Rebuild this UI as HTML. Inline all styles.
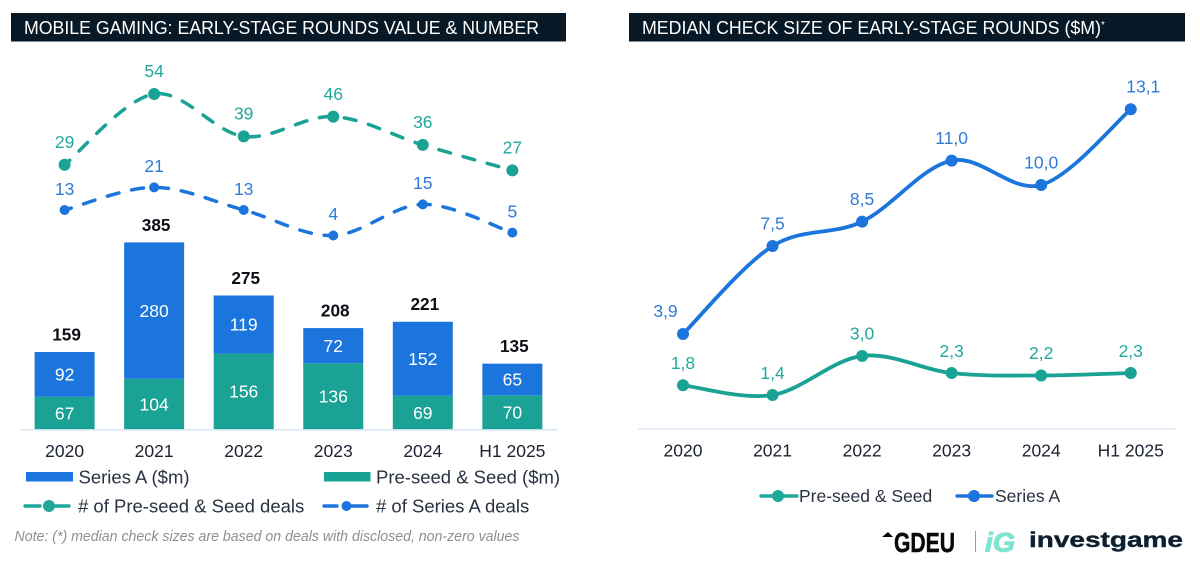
<!DOCTYPE html>
<html lang="en">
<head>
<meta charset="utf-8">
<title>Mobile gaming early-stage rounds</title>
<style>
  html, body { margin: 0; padding: 0; background: #fff; }
  body { width: 1200px; height: 567px; overflow: hidden; }
  svg { display: block; font-family: "Liberation Sans", Arial, sans-serif; filter: blur(0.35px); }
  text { white-space: pre; }
</style>
</head>
<body>
<svg id="root" xmlns="http://www.w3.org/2000/svg" width="1200" height="567" viewBox="0 0 1200 567">
  <rect x="0" y="0" width="1200" height="567" fill="#ffffff"/>

  <g>
    <rect x="11" y="13" width="555" height="28.5" fill="#071826"/>
    <text x="24" y="34.2" font-size="18.5" fill="#ffffff" textLength="515" lengthAdjust="spacingAndGlyphs">MOBILE GAMING: EARLY-STAGE ROUNDS VALUE &amp; NUMBER</text>
  </g>
  <g>
    <rect x="629" y="13" width="556" height="28.5" fill="#071826"/>
    <text x="642" y="34.2" font-size="18.5" fill="#ffffff" textLength="459" lengthAdjust="spacingAndGlyphs">MEDIAN CHECK SIZE OF EARLY-STAGE ROUNDS ($M)</text>
    <text x="1101" y="28" font-size="10" fill="#ffffff">*</text>
  </g>

  <g id="left-plot"></g>
  <g id="right-plot"></g>

  <g font-size="18.5" fill="#2a3242">
    <g>
      <rect x="26" y="472" width="47" height="9.5" fill="#1c75dc"/>
      <text x="78.5" y="483.3">Series A ($m)</text>
    </g>
    <g>
      <rect x="324" y="472" width="46.5" height="9.5" fill="#16a394"/>
      <text x="376" y="483.3">Pre-seed &amp; Seed ($m)</text>
    </g>
    <g>
      <line x1="25" x2="69" y1="506" y2="506" stroke="#1fa79a" stroke-width="3.4" stroke-linecap="round" stroke-dasharray="15 14 15"/>
      <circle cx="49" cy="506" r="6" fill="#1fa79a"/>
      <text x="78" y="512.6"># of Pre-seed &amp; Seed deals</text>
    </g>
    <g>
      <line x1="324" x2="367" y1="506" y2="506" stroke="#1c75dc" stroke-width="3.4" stroke-linecap="round" stroke-dasharray="13 15 15"/>
      <circle cx="346.5" cy="506" r="5" fill="#1c75dc"/>
      <text x="376" y="512.6"># of Series A deals</text>
    </g>
  </g>

  <text x="14.5" y="541" font-size="14.6" font-style="italic" fill="#8b9096" textLength="505" lengthAdjust="spacingAndGlyphs">Note: (*) median check sizes are based on deals with disclosed, non-zero values</text>

  <g font-size="17.5" fill="#2a3242">
    <g>
      <line x1="761" x2="797" y1="496" y2="496" stroke="#1fa79a" stroke-width="3.4" stroke-linecap="round"/>
      <circle cx="778" cy="496" r="6" fill="#1fa79a"/>
      <text x="799" y="502.2">Pre-seed &amp; Seed</text>
    </g>
    <g>
      <line x1="957" x2="992" y1="496" y2="496" stroke="#1c75dc" stroke-width="3.4" stroke-linecap="round"/>
      <circle cx="974" cy="496" r="6" fill="#1c75dc"/>
      <text x="995" y="502.2">Series A</text>
    </g>
  </g>

  <g>
    <g>
      <polygon points="882,537 888,532 893,537" fill="#0a0a0a"/>
      <text x="894" y="552" font-size="28" font-weight="700" fill="#0a0a0a" stroke="#0a0a0a" stroke-width="0.5" textLength="61" lengthAdjust="spacingAndGlyphs">GDEU</text>
    </g>
    <line x1="975.5" x2="975.5" y1="531" y2="552" stroke="#9aa0a4" stroke-width="1"/>
    <text x="985" y="551.5" font-size="27" font-weight="700" font-style="italic" fill="#7fe3cf" stroke="#7fe3cf" stroke-width="1" textLength="30" lengthAdjust="spacingAndGlyphs">iG</text>
    <text x="1029" y="547" font-size="21.5" font-weight="700" fill="#0d2030" stroke="#0d2030" stroke-width="0.4" textLength="154" lengthAdjust="spacingAndGlyphs">investgame</text>
  </g>
</svg>

<script>
// ---- data ----
const categories = ["2020", "2021", "2022", "2023", "2024", "H1 2025"];
const preSeedValue = [67, 104, 156, 136, 69, 70];
const seriesAValue = [92, 280, 119, 72, 152, 65];
const roundTotals = [159, 385, 275, 208, 221, 135];
const preSeedDeals = [29, 54, 39, 46, 36, 27];
const seriesADeals = [13, 21, 13, 4, 15, 5];
const preSeedMedian = [1.8, 1.4, 3.0, 2.3, 2.2, 2.3];
const seriesAMedian = [3.9, 7.5, 8.5, 11.0, 10.0, 13.1];

// ---- axis functions ----
const STEP = 89.55;
const BASE = 429.4;
function xLeft(i) { return 64.6 + i * STEP; }
function xRight(i) { return 683 + i * STEP; }
function yBar(v) { return BASE - v * 0.487; }
function yDeals(v) { return 246.8 - v * 2.83; }
function yMedian(v) { return 429.2 - v * 24.42; }

const NS = "http://www.w3.org/2000/svg";
const BLUE = "#1c75dc", TEAL = "#1aa295", BLUE_TXT = "#2f7ad9", TEAL_TXT = "#22a99b", DARK = "#1c2230";
const TXT = 17.5;
const left = document.getElementById("left-plot");
const right = document.getElementById("right-plot");

function make(tag, parent, attrs, txt) {
  const el = document.createElementNS(NS, tag);
  for (const k in attrs) el.setAttribute(k, attrs[k]);
  if (txt !== undefined) el.textContent = txt;
  parent.appendChild(el);
  return el;
}
function label(parent, x, cy, txt, size, fill, weight) {
  return make("text", parent, {
    x: x, y: cy + size * 0.358, "font-size": size, fill: fill,
    "text-anchor": "middle", "font-weight": weight || 400
  }, txt);
}
function smoothPath(pts) {
  let d = "M" + pts[0][0] + " " + pts[0][1];
  for (let i = 0; i < pts.length - 1; i++) {
    const p0 = pts[Math.max(i - 1, 0)], p1 = pts[i], p2 = pts[i + 1], p3 = pts[Math.min(i + 2, pts.length - 1)];
    const c1x = p1[0] + (p2[0] - p0[0]) / 6, c1y = p1[1] + (p2[1] - p0[1]) / 6;
    const c2x = p2[0] - (p3[0] - p1[0]) / 6, c2y = p2[1] - (p3[1] - p1[1]) / 6;
    d += " C" + c1x + " " + c1y + " " + c2x + " " + c2y + " " + p2[0] + " " + p2[1];
  }
  return d;
}
function fmtComma(v) { return v.toFixed(1).replace(".", ","); }

// ---- left chart: stacked bars ----
const BAR_W = 60;
categories.forEach(function (cat, i) {
  const cx = xLeft(i);
  const tealTop = yBar(preSeedValue[i]);
  const blueTop = yBar(preSeedValue[i] + seriesAValue[i]);

  const barTeal = make("rect", left, { x: cx - BAR_W / 2, y: tealTop, width: BAR_W, height: BASE - tealTop, fill: TEAL });
  
  

  const barBlue = make("rect", left, { x: cx - BAR_W / 2, y: blueTop, width: BAR_W, height: tealTop - blueTop, fill: BLUE });
  
  

  const valTeal = label(left, cx, (tealTop + BASE) / 2, String(preSeedValue[i]), TXT, "#ffffff");
  
  

  const valBlue = label(left, cx, (blueTop + tealTop) / 2, String(seriesAValue[i]), TXT, "#ffffff");
  
  

  const total = label(left, cx + 2, yBar(preSeedValue[i] + seriesAValue[i]) - 17.7, String(roundTotals[i]), 17.2, "#0c0f16", 700);
  
  

  const tick = label(left, cx, 450.7, cat, TXT, DARK);
  
  
});

const axisLeft = make("line", left, { x1: 20, x2: 557.5, y1: BASE + 0.4, y2: BASE + 0.4, stroke: "#d6e5f3", "stroke-width": 1.3 });



// ---- left chart: dashed deal lines ----
function drawDeals(values, color, txtColor, radius, labelOffset, key) {
  const pts = values.map(function (v, i) { return [xLeft(i), yDeals(v)]; });
  const line = make("path", left, {
    d: smoothPath(pts), fill: "none", stroke: color, "stroke-width": 3.5,
    "stroke-linecap": "round", "stroke-dasharray": "12 13", "stroke-dashoffset": 5
  });
  
  
  values.forEach(function (v, i) {
    const dot = make("circle", left, { cx: xLeft(i), cy: yDeals(v), r: radius, fill: color });
    
    
    const t = label(left, xLeft(i), yDeals(v) - labelOffset, String(v), TXT, txtColor);
    
    
  });
}
drawDeals(preSeedDeals, TEAL, TEAL_TXT, 6, 23, "pre-seed-deals");
drawDeals(seriesADeals, BLUE, BLUE_TXT, 5, 21.5, "series-a-deals");

// ---- right chart: median check size ----
function drawMedian(values, color, txtColor, labelOffset, key, shiftEnds) {
  const pts = values.map(function (v, i) { return [xRight(i), yMedian(v)]; });
  const line = make("path", right, {
    d: smoothPath(pts), fill: "none", stroke: color, "stroke-width": 3.8, "stroke-linecap": "round"
  });
  
  
  values.forEach(function (v, i) {
    const dot = make("circle", right, { cx: xRight(i), cy: yMedian(v), r: 6, fill: color });
    
    
    let dx = 0;
    if (shiftEnds && i === 0) dx = -17.5;
    if (shiftEnds && i === values.length - 1) dx = 12.5;
    const t = label(right, xRight(i) + dx, yMedian(v) - labelOffset, fmtComma(v), TXT, txtColor);
    
    
  });
}
categories.forEach(function (cat, i) {
  const tick = label(right, xRight(i), 450, cat, TXT, DARK);
  
  
});
const axisRight = make("line", right, { x1: 638, x2: 1176, y1: 429, y2: 429, stroke: "#d6e5f3", "stroke-width": 1.3 });


drawMedian(preSeedMedian, TEAL, TEAL_TXT, 22.5, "pre-seed-median", false);
drawMedian(seriesAMedian, BLUE, BLUE_TXT, 23, "series-a-median", true);
</script>
</body>
</html>
